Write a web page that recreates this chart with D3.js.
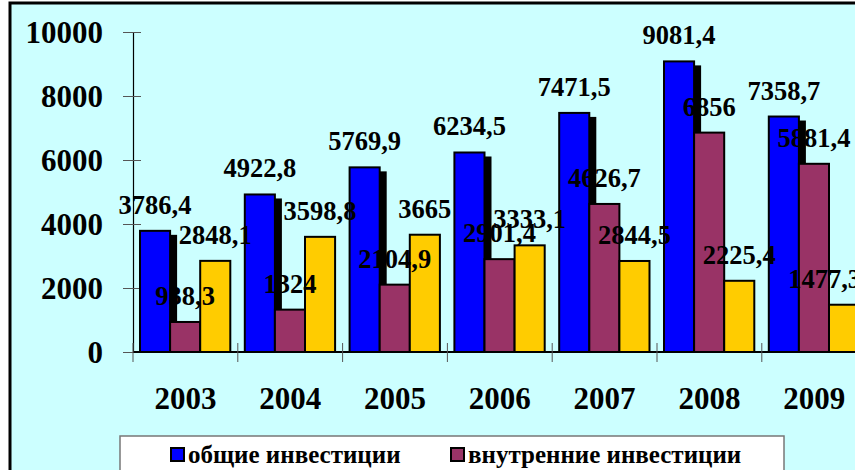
<!DOCTYPE html>
<html>
<head>
<meta charset="utf-8">
<script src="https://cdn.jsdelivr.net/npm/d3@7"></script>
<style>
  body { margin: 0; background: #fff; }
  svg { display: block; }
  text { font-family: "Liberation Serif", "Times New Roman", serif; font-weight: bold; }
</style>
</head>
<body>
<script>
// data
var years = ["2003", "2004", "2005", "2006", "2007", "2008", "2009"];
var total = [3786.4, 4922.8, 5769.9, 6234.5, 7471.5, 9081.4, 7358.7];
var domestic = [938.3, 1324, 2104.9, 2901.4, 4626.7, 6856, 5881.4];
var foreign = [2848.1, 3598.8, 3665, 3333.1, 2844.5, 2225.4, 1477.3];
var yTicks = [0, 2000, 4000, 6000, 8000, 10000];
var legendNames = ["общие инвестиции", "внутренние инвестиции"];

var seriesKeys = ["total", "domestic", "foreign"];
var colors = {total: "#0000ff", domestic: "#993366", foreign: "#ffcc00"};

var DATA = [];
for (var i = 0; i < years.length; i++) {
    DATA.push({year: years[i], total: total[i], domestic: domestic[i], foreign: foreign[i]});
}

var W = 855, H = 470;
var PLOT = {left: 133, top: 32, bottom: 352, right: 133 + 7 * 104.8};

var svg = d3.select("body").append("svg")
    .attr("width", W)
    .attr("height", H);

// frame (runs off the right and bottom edges)
svg.append("rect")
    .attr("x", 10).attr("y", 3)
    .attr("width", 900).attr("height", 520)
    .attr("fill", "#ccffff")
    .attr("stroke", "#000")
    .attr("stroke-width", 3);

// scales
var x0 = d3.scaleBand().domain(years).range([PLOT.left, PLOT.right]).padding(0);
var x1 = d3.scaleBand().domain(seriesKeys).range([7, x0.bandwidth() - 7.5]).padding(0);
var y = d3.scaleLinear().domain([0, 10000]).range([PLOT.bottom, PLOT.top]);

// y axis
var yAxis = svg.append("g")
    .attr("transform", "translate(" + PLOT.left + ",0)")
    .call(d3.axisLeft(y).tickValues(yTicks).tickFormat(d3.format("d")).tickSize(10).tickPadding(20));
yAxis.select(".domain").attr("stroke", "#000").attr("stroke-width", 1.2);
yAxis.selectAll(".tick line").attr("x1", -10).attr("x2", 8).attr("stroke", "#555");
yAxis.selectAll(".tick text")
    .attr("font-size", 31)
    .attr("fill", "#000")
    .attr("dy", "0.34em")
    .attr("x", -30);

// groups
var groups = svg.append("g").selectAll("g")
    .data(DATA)
    .join("g")
    .attr("transform", function (d) { return "translate(" + x0(d.year) + ",0)"; });

// shadow behind the first series
groups.append("rect")
    .attr("x", x1("total") + 7)
    .attr("y", function (d) { return y(d.total) + 4; })
    .attr("width", x1.bandwidth())
    .attr("height", function (d) { return y(0) - y(d.total) - 4; })
    .attr("fill", "#000");

seriesKeys.forEach(function (k) {
    groups.append("rect")
        .attr("x", x1(k))
        .attr("y", function (d) { return y(d[k]); })
        .attr("width", x1.bandwidth())
        .attr("height", function (d) { return y(0) - y(d[k]); })
        .attr("fill", colors[k])
        .attr("stroke", "#000")
        .attr("stroke-width", 2);
});

// x axis line + category ticks
svg.append("line")
    .attr("x1", PLOT.left).attr("x2", PLOT.right)
    .attr("y1", y(0)).attr("y2", y(0))
    .attr("stroke", "#000").attr("stroke-width", 2);

svg.append("g").selectAll("line")
    .data(years)
    .join("line")
    .attr("x1", function (d) { return x0(d); })
    .attr("x2", function (d) { return x0(d); })
    .attr("y1", y(0) - 9).attr("y2", y(0) + 10)
    .attr("stroke", "#555");

var xAxis = svg.append("g")
    .attr("transform", "translate(0," + y(0) + ")")
    .call(d3.axisBottom(x0).tickSize(0).tickPadding(35));
xAxis.select(".domain").remove();
xAxis.selectAll(".tick text")
    .attr("font-size", 31)
    .attr("fill", "#000");

// data labels, on top of every bar
var maxLabelX = 861;
var labelLayer = svg.append("g");
seriesKeys.forEach(function (k) {
    labelLayer.append("g").selectAll("text")
        .data(DATA)
        .join("text")
        .attr("x", function (d) { return x0(d.year) + x1(k) + x1.bandwidth() / 2; })
        .attr("y", function (d) { return y(d[k]) - 17; })
        .attr("text-anchor", "middle")
        .attr("font-size", 26.5)
        .attr("fill", "#000")
        .text(function (d) { return String(d[k]).replace(".", ","); })
        .each(function (d) {
            var w = this.getComputedTextLength();
            var cx = x0(d.year) + x1(k) + x1.bandwidth() / 2;
            if (cx + w / 2 > maxLabelX) {
                d3.select(this).attr("x", maxLabelX - w / 2);
            }
        });
});

// legend
var legend = svg.append("g");
legend.append("rect")
    .attr("x", 120).attr("y", 436)
    .attr("width", 664).attr("height", 80)
    .attr("fill", "#fff")
    .attr("stroke", "#777")
    .attr("stroke-width", 1.5);

var legendX = [171, 451];
legendNames.forEach(function (name, i) {
    legend.append("rect")
        .attr("x", legendX[i]).attr("y", 448)
        .attr("width", 13).attr("height", 13)
        .attr("fill", colors[seriesKeys[i]])
        .attr("stroke", "#000")
        .attr("stroke-width", 2);
    legend.append("text")
        .attr("x", legendX[i] + 17)
        .attr("y", 463)
        .attr("font-size", 25)
        .attr("fill", "#000")
        .text(name);
});
</script>
</body>
</html>
